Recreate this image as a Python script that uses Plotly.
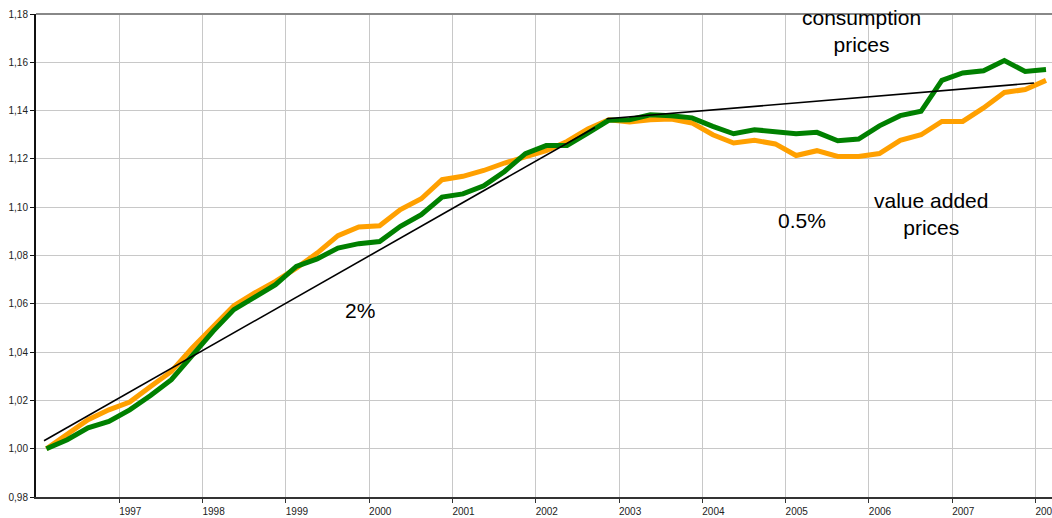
import plotly.graph_objects as go

# Quarterly price indices, 1996Q1 = 1.00 (49 quarters: 1996Q1 .. 2008Q1)
start_year = 1996
consumption_prices = [
    1.0000, 1.0037, 1.0086, 1.0113, 1.0161, 1.0220, 1.0286, 1.0389,
    1.0486, 1.0576, 1.0628, 1.0679, 1.0755, 1.0786, 1.0831, 1.0849,
    1.0858, 1.0921, 1.0969, 1.1042, 1.1055, 1.1089, 1.1148, 1.1222,
    1.1255, 1.1255, 1.1307, 1.1360, 1.1362, 1.1383, 1.1379, 1.1370,
    1.1335, 1.1304, 1.1321, 1.1310, 1.1304, 1.1310, 1.1275, 1.1282,
    1.1337, 1.1379, 1.1397, 1.1525, 1.1556, 1.1565, 1.1607, 1.1562,
    1.1570,
]
value_added_prices = [
    1.0000, 1.0061, 1.0120, 1.0161, 1.0193, 1.0258, 1.0320, 1.0417,
    1.0506, 1.0592, 1.0645, 1.0693, 1.0748, 1.0810, 1.0882, 1.0918,
    1.0923, 1.0990, 1.1035, 1.1114, 1.1128, 1.1152, 1.1183, 1.1210,
    1.1234, 1.1272, 1.1324, 1.1362, 1.1353, 1.1362, 1.1365, 1.1349,
    1.1300, 1.1266, 1.1277, 1.1262, 1.1214, 1.1234, 1.1210, 1.1210,
    1.1222, 1.1277, 1.1300, 1.1355, 1.1355, 1.1411, 1.1475, 1.1487,
    1.1525,
]

# trend lines (2% and 0.5% a year)
trend_2pct_x = [1996.096, 2002.71]
trend_2pct_y = [1.0033, 1.1330]
trend_05pct_x = [2002.85, 2007.98]
trend_05pct_y = [1.1366, 1.1514]

year_ticks = list(range(1997, 2009))
year_labels = [str(y) for y in year_ticks]

# mid-quarter positions on a year scale
quarters = [start_year + (i + 0.5) / 4 for i in range(len(consumption_prices))]

fonte = "Liberation Sans, Arial, sans-serif"

fig = go.Figure()
fig.add_trace(go.Scatter(
    x = quarters, y = value_added_prices,
    name = "value added prices", mode = "lines",
    line = dict(color = "#FFA000", width = 5),
    showlegend = False
))
fig.add_trace(go.Scatter(
    x = quarters, y = consumption_prices,
    name = "consumption prices", mode = "lines",
    line = dict(color = "#008000", width = 5),
    showlegend = False
))
fig.add_trace(go.Scatter(
    x = trend_2pct_x, y = trend_2pct_y,
    mode = "lines", line = dict(color = "black", width = 1.6),
    showlegend = False
))
fig.add_trace(go.Scatter(
    x = trend_05pct_x, y = trend_05pct_y,
    mode = "lines", line = dict(color = "black", width = 1.6),
    showlegend = False
))

anot = dict(font = dict(family = fonte, size = 21, color = "black"), showarrow = False,
            xanchor = "center", yanchor = "middle")
fig.add_annotation(x = 2005.908, y = 1.1729, text = "consumption<br>prices", **anot)
fig.add_annotation(x = 2006.748, y = 1.0973, text = "value added<br>prices", **anot)
fig.add_annotation(x = 2005.196, y = 1.0945, text = "0.5%", **anot)
fig.add_annotation(x = 1999.887, y = 1.0573, text = "2%", **anot)

# grey top border of the plot area
fig.add_shape(type = "line", xref = "paper", yref = "paper", x0 = 0, x1 = 1, y0 = 1, y1 = 1,
              line = dict(color = "#888888", width = 2))

fig.update_layout(
    width = 1052, height = 518,
    margin = dict(l = 36, r = 0, t = 14, b = 21, autoexpand = False),
    paper_bgcolor = "white", plot_bgcolor = "white",
    separators = ",.",
    font = dict(family = fonte, size = 10, color = "#222222"),
    xaxis = dict(
        range = [1996, 2008.197],
        tickvals = year_ticks, ticktext = year_labels,
        ticklabelshift = 11, ticklabeloverflow = "allow", automargin = False,
        showgrid = True, gridcolor = "#c8c8c8", gridwidth = 1,
        ticks = "outside", ticklen = 4, tickcolor = "#333333",
        showline = True, linecolor = "#333333", linewidth = 2,
        zeroline = False
    ),
    yaxis = dict(
        range = [0.98, 1.18], dtick = 0.02, tick0 = 0.98, tickformat = ".2f",
        automargin = False,
        showgrid = True, gridcolor = "#c8c8c8", gridwidth = 1,
        ticks = "outside", ticklen = 4, tickcolor = "#111111",
        showline = True, linecolor = "#111111", linewidth = 2,
        zeroline = False
    )
)

# sem margem do body, para o gráfico ocupar a janela inteira
fig.write_html("out.html", config = {"displayModeBar": False},
               post_script = "document.body.style.margin = '0';")
